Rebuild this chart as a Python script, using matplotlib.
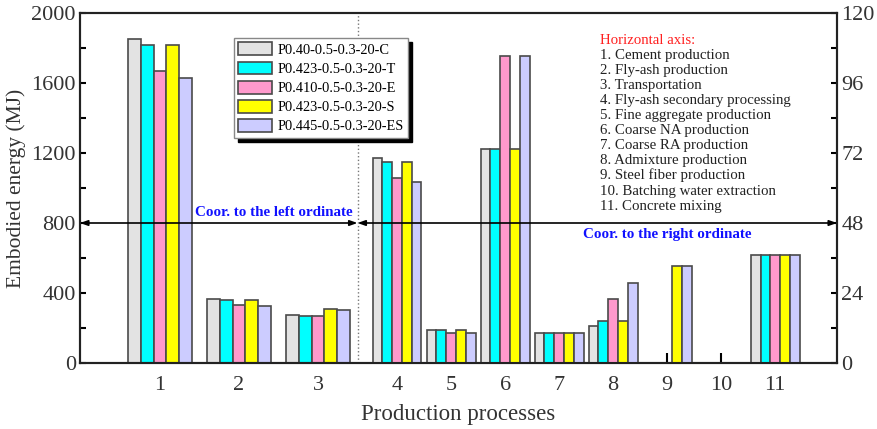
import numpy as np
import matplotlib
matplotlib.use("Agg")
import matplotlib.pyplot as plt

plt.rcParams['font.family'] = ['Liberation Serif', 'DejaVu Serif']

# ---------------- data ----------------
processes = ['1', '2', '3', '4', '5', '6', '7', '8', '9', '10', '11']
series_names = ['P0.40-0.5-0.3-20-C', 'P0.423-0.5-0.3-20-T', 'P0.410-0.5-0.3-20-E',
                'P0.423-0.5-0.3-20-S', 'P0.445-0.5-0.3-20-ES']
nan = np.nan
# processes 1-3 read on left ordinate (MJ), 4-11 on right ordinate
val_C = [1850, 367, 272, 70.2, 11.3, 73.3, 10.2, 12.8, nan, nan, 36.9]
val_T = [1817, 360, 268, 69.0, 11.3, 73.3, 10.2, 14.5, nan, nan, 36.9]
val_E = [1670, 330, 268, 63.3, 10.2, 105.3, 10.2, 21.8, nan, nan, 36.9]
val_S = [1817, 360, 307, 69.0, 11.3, 73.3, 10.2, 14.5, 33.3, nan, 36.9]
val_ES = [1630, 324, 303, 62.0, 10.2, 105.3, 10.2, 27.5, 33.3, nan, 36.9]
n_left = 3  # number of processes on the left ordinate

legend_items = ['1. Cement production', '2. Fly-ash production', '3. Transportation',
                '4. Fly-ash secondary processing', '5. Fine aggregate production',
                '6. Coarse NA production', '7. Coarse RA production', '8. Admixture production',
                '9. Steel fiber production', '10. Batching water extraction', '11. Concrete mixing']

colors = ['#e3e3e3', '#00ffff', '#ff99cc', '#ffff00', '#ccccff']
edge = '#4a4a4a'

# ---------------- layout ----------------
W, H = 877, 429
fig = plt.figure(figsize=(W / 100, H / 100), dpi=100)
ax = fig.add_axes([80 / W, 1 - 363 / H, (837 - 80) / W, (363 - 13) / H])
ax2 = ax.twinx()

# group positions: wider spacing for first groups
pos = np.concatenate([np.arange(1, 5, dtype=float), 4 + 0.684 * np.arange(1, 8)])
w_left, w_right = 0.162, 0.124

all_vals = [val_C, val_T, val_E, val_S, val_ES]
for s, (vals, c, name) in enumerate(zip(all_vals, colors, series_names)):
    vals = np.array(vals, dtype=float)
    xl = pos[:n_left] + (s - 2) * w_left
    ax.bar(xl, vals[:n_left], width=w_left, color=c, edgecolor=edge, linewidth=1.2,
           label=name, zorder=2)
    vr = vals[n_left:]
    xr = pos[n_left:] + (s - 2) * w_right
    m = ~np.isnan(vr)
    ax2.bar(xr[m], vr[m], width=w_right, color=c, edgecolor=edge, linewidth=1.2, zorder=2)

ax.set_xlim(-0.013, 9.57)
ax.set_ylim(0, 2000)
ax2.set_ylim(0, 120)

ax.set_xticks(pos)
ax.set_xticklabels(processes)
ax.set_yticks(np.arange(0, 2001, 400))
ax.set_yticks(np.arange(0, 2001, 200), minor=True)
ax2.set_yticks(np.arange(0, 121, 24))
ax2.set_yticks(np.arange(0, 121, 12), minor=True)

lab_col = '#333333'
for a in (ax, ax2):
    for sp in a.spines.values():
        sp.set_linewidth(1.5)
        sp.set_color('#222222')
ax.tick_params(axis='y', which='both', direction='in', length=4, width=1.5,
               labelsize=16, labelcolor=lab_col, pad=3)
ax2.tick_params(axis='y', which='both', direction='in', length=4, width=1.5,
                labelsize=16, labelcolor=lab_col, pad=3)
ax.tick_params(axis='x', direction='in', length=7, width=1.5, labelsize=16,
               labelcolor=lab_col, pad=9)

ax.set_ylabel('Embodied energy (MJ)', fontsize=15.5, color=lab_col, labelpad=4)
ax.set_xlabel('Production processes', fontsize=16.5, color=lab_col, labelpad=7)

# dotted divider
ax2.axvline(3.5, color='#777777', linestyle=':', linewidth=1.0, zorder=1)

# arrows
xmin, xmax = ax.get_xlim()
arr = dict(arrowstyle='<|-|>,head_length=0.45,head_width=0.16', color='black', lw=1.2,
           shrinkA=0, shrinkB=0)
ax2.annotate('', xy=(xmin, 48), xytext=(3.5, 48), xycoords='data', arrowprops=arr, zorder=5)
ax2.annotate('', xy=(xmax, 48), xytext=(3.5, 48), xycoords='data', arrowprops=arr, zorder=5)

ax.text(2.44, 860, 'Coor. to the left ordinate', color='#1010ff', fontsize=10.8,
        fontweight='bold', ha='center', va='center', zorder=6)
ax2.text(7.42, 44.0, 'Coor. to the right ordinate', color='#1010ff', fontsize=10.8,
         fontweight='bold', ha='center', va='center', zorder=6)

# horizontal-axis notes
fig.text(600 / W, 1 - 43.5 / H, 'Horizontal axis:', color='#ff2020', fontsize=10.7,
         va='baseline', ha='left')
for i, t in enumerate(legend_items):
    fig.text(600 / W, 1 - (43.5 + 15.1 * (i + 1)) / H, t, color='#222222', fontsize=10.7,
             va='baseline', ha='left')

# legend
handles, labels = ax.get_legend_handles_labels()
leg = ax2.legend(handles, labels, loc='upper left', bbox_to_anchor=(234 / W, 1 - 38 / H),
                 bbox_transform=fig.transFigure, borderaxespad=0, fontsize=10.4,
                 frameon=True, fancybox=False, edgecolor='#888888', framealpha=1,
                 handlelength=2.3, handleheight=1.0, handletextpad=0.4,
                 labelspacing=0.33, borderpad=0.3,
                 shadow={'color': 'black', 'alpha': 1, 'ox': 3, 'oy': -3})
leg.get_frame().set_linewidth(1.0)
leg.set_zorder(10)

fig.savefig('out.png', dpi=100)
